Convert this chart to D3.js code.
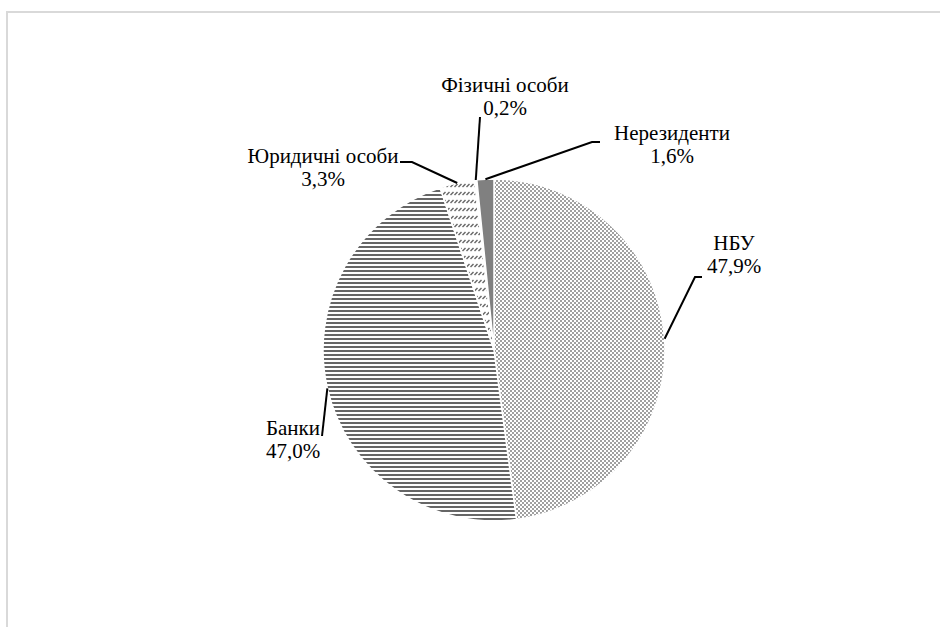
<!DOCTYPE html>
<html>
<head>
<meta charset="utf-8">
<script src="https://cdn.jsdelivr.net/npm/d3@7"></script>
<style>
  html, body { margin: 0; padding: 0; background: #fff; }
  svg { display: block; }
</style>
</head>
<body>
<svg id="chart"></svg>
<script>
// Data.
const categories = ['НБУ', 'Банки', 'Юридичні особи', 'Фізичні особи', 'Нерезиденти'];
const values = [47.9, 47.0, 3.3, 0.2, 1.6];
const valueLabels = ['47,9%', '47,0%', '3,3%', '0,2%', '1,6%'];

// Layout of the labels (centre x, first baseline) and leader-line bends.
const labelPos = [[734, 250], [293, 435], [323, 163], [505, 92], [672, 140]];
const leaderBends = [
  [[695, 277], [702, 277]],
  [[322, 436]],
  [[412, 162], [400, 162]],
  [[480, 117]],
  [[592, 142], [600, 142]],
];
const fills = ['url(#dots)', 'url(#hlines)', 'url(#diag)', '#ffffff', '#808080'];

const width = 940;
const height = 627;
const cx = 494;
const cy = 350;
const radius = 171;
const fontFamily = 'Liberation Serif, Times New Roman, serif';

const svg = d3.select('#chart').attr('width', width).attr('height', height);

// Patterns.
const defs = svg.append('defs');
const dots = defs.append('pattern').attr('id', 'dots')
    .attr('patternUnits', 'userSpaceOnUse').attr('width', 4).attr('height', 4);
dots.append('rect').attr('width', 4).attr('height', 4).attr('fill', '#fff');
dots.append('rect').attr('width', 2).attr('height', 2).attr('fill', '#a0a0a0');
dots.append('rect').attr('x', 2).attr('y', 2).attr('width', 2).attr('height', 2).attr('fill', '#a0a0a0');

const hlines = defs.append('pattern').attr('id', 'hlines')
    .attr('patternUnits', 'userSpaceOnUse').attr('width', 4).attr('height', 4);
hlines.append('rect').attr('width', 4).attr('height', 4).attr('fill', '#fff');
hlines.append('rect').attr('width', 4).attr('height', 2).attr('fill', '#666');

const diag = defs.append('pattern').attr('id', 'diag')
    .attr('patternUnits', 'userSpaceOnUse').attr('width', 4).attr('height', 8);
diag.append('rect').attr('width', 4).attr('height', 8).attr('fill', '#fff');
diag.append('path').attr('d', 'M0.5,5 L3.5,2').attr('stroke', '#666').attr('stroke-width', 1.4);

// Frame.
svg.append('rect')
    .attr('x', 7).attr('y', 12).attr('width', 1000).attr('height', 1000)
    .attr('fill', 'none').attr('stroke', '#d9d9d9').attr('stroke-width', 2);

// Pie.
const pie = d3.pie().sort(null).value((d) => d);
const arcs = pie(values);
const arc = d3.arc().innerRadius(0).outerRadius(radius);
const outer = d3.arc().innerRadius(radius).outerRadius(radius);

const group = svg.append('g').attr('transform', `translate(${cx}, ${cy})`);
group.selectAll('path.slice')
    .data(arcs)
    .join('path')
    .attr('class', 'slice')
    .attr('d', arc)
    .attr('fill', (d, i) => fills[i])
    .attr('stroke', '#fff')
    .attr('stroke-width', 1.5);

// Leader lines.
const line = d3.line();
svg.selectAll('path.leader')
    .data(arcs)
    .join('path')
    .attr('class', 'leader')
    .attr('d', (d, i) => {
      const c = outer.centroid(d);
      return line([[cx + c[0], cy + c[1]], ...leaderBends[i]]);
    })
    .attr('fill', 'none')
    .attr('stroke', '#000')
    .attr('stroke-width', 2);

// Labels.
const labels = svg.selectAll('text.label')
    .data(categories)
    .join('text')
    .attr('class', 'label')
    .attr('text-anchor', 'middle')
    .attr('font-family', fontFamily)
    .attr('font-size', 21)
    .attr('fill', '#000');
labels.append('tspan')
    .attr('x', (d, i) => labelPos[i][0]).attr('y', (d, i) => labelPos[i][1])
    .text((d) => d);
labels.append('tspan')
    .attr('x', (d, i) => labelPos[i][0]).attr('y', (d, i) => labelPos[i][1] + 23)
    .text((d, i) => valueLabels[i]);
</script>
</body>
</html>
